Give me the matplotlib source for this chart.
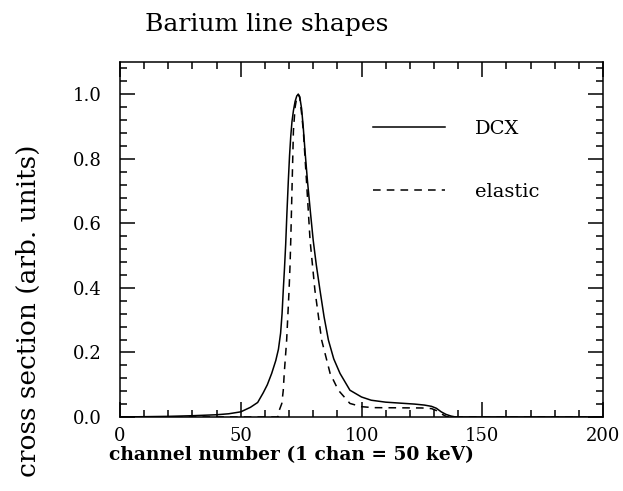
import numpy as np
import matplotlib
matplotlib.use("Agg")
import matplotlib.pyplot as plt
from matplotlib.ticker import MultipleLocator, FormatStrFormatter

# values (channel, cross section)
dcx_channel = [0, 10, 20, 30, 40, 45, 50, 54, 57, 59.3, 61, 62.8, 64.5, 65.6, 66.5,
               67.1, 67.6, 68.1, 68.6, 69.1, 69.7, 70.2, 70.7, 71.2, 71.8, 72.5, 73.2,
               73.8, 74.4, 75.2, 75.9, 76.7, 77.6, 78.9, 80.0, 81.3, 82.8, 84.5, 86.3,
               88.5, 91.1, 95.2, 100, 104, 110, 116, 122, 126, 129, 131, 133, 135, 137,
               139, 200]
dcx_value = [0.0, 0.001, 0.002, 0.004, 0.007, 0.01, 0.016, 0.03, 0.045, 0.075, 0.1,
             0.135, 0.175, 0.21, 0.26, 0.32, 0.393, 0.46, 0.535, 0.63, 0.733, 0.81,
             0.87, 0.915, 0.949, 0.978, 0.995, 1.0, 0.993, 0.955, 0.895, 0.815, 0.733,
             0.63, 0.547, 0.47, 0.393, 0.31, 0.238, 0.18, 0.135, 0.083, 0.062, 0.052,
             0.046, 0.043, 0.04, 0.037, 0.033, 0.027, 0.016, 0.008, 0.003, 0.0, 0.0]

elastic_channel = [0, 65, 65.6, 66, 67, 67.6, 68, 69, 70, 70.4, 70.7, 71.3, 71.8,
                   72.5, 73.2, 73.8, 74.4, 75.2, 75.9, 77.2, 78.7, 80.7, 83.5, 87,
                   90.4, 95.2, 100, 105, 125, 129, 131, 133, 135, 136, 200]
elastic_value = [0.0, 0.0, 0.003, 0.022, 0.042, 0.083, 0.135, 0.238, 0.393, 0.47,
                 0.547, 0.733, 0.887, 0.96, 0.99, 1.0, 0.99, 0.94, 0.887, 0.733, 0.547,
                 0.393, 0.238, 0.135, 0.083, 0.042, 0.032, 0.029, 0.028, 0.026, 0.02,
                 0.01, 0.002, 0.0, 0.0]

plt.rcParams['font.family'] = ['DejaVu Serif']

fig = plt.figure(figsize=(6.23, 4.91), dpi=100)
ax = fig.add_axes([0.1926, 0.1507, 0.7754, 0.7230])

ax.plot(dcx_channel, dcx_value, color='black', lw=1.1, label='DCX')
ax.plot(elastic_channel, elastic_value, color='black', lw=1.1, dashes=(5, 4),
        label='elastic')

ax.set_xlim(0, 200)
ax.set_ylim(0, 1.1)
ax.xaxis.set_major_locator(MultipleLocator(50))
ax.xaxis.set_minor_locator(MultipleLocator(10))
ax.yaxis.set_major_locator(MultipleLocator(0.2))
ax.yaxis.set_minor_locator(MultipleLocator(0.04))
ax.yaxis.set_major_formatter(FormatStrFormatter('%.1f'))

ax.tick_params(which='both', direction='in', top=True, right=True, width=1.1)
ax.tick_params(which='major', length=11, labelsize=13)
ax.tick_params(axis='y', which='major', pad=13)
ax.tick_params(axis='x', which='major', pad=7)
ax.tick_params(which='minor', length=5)
for s in ax.spines.values():
    s.set_linewidth(1.1)

ax.set_xlabel('channel number (1 chan = 50 keV)', fontsize=13.4, fontweight='bold')
ax.xaxis.set_label_coords(0.354, -0.083)
ax.set_ylabel('cross section (arb. units)', fontsize=19)
ax.yaxis.set_label_coords(-0.163, 0.30)

ax.legend(loc='upper left', bbox_to_anchor=(0.524, 0.837), frameon=False,
          fontsize=14, handlelength=3.7, handletextpad=1.55, labelspacing=2.3,
          borderpad=0, borderaxespad=0)

fig.text(267 / 623, 1 - 24 / 491, 'Barium line shapes', fontsize=18,
         ha='center', va='center')

fig.savefig('out.png', dpi=100)
